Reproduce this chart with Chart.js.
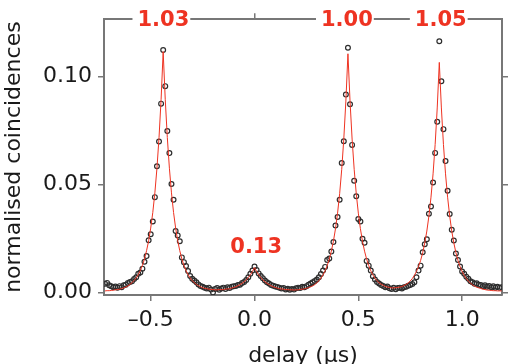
<!DOCTYPE html>
<html>
<head>
<meta charset="utf-8">
<script src="https://cdn.jsdelivr.net/npm/chart.js@4/dist/chart.umd.min.js"></script>
<style>
  html, body { margin: 0; padding: 0; background: #fff; }
  canvas { display: block; }
</style>
</head>
<body>
<canvas id="chart" width="509" height="364"></canvas>
<script>
// delay bins (µs)
const delays = [
  -0.72,-0.71,-0.70,-0.69,-0.68,-0.67,-0.66,-0.65,-0.64,-0.63,
  -0.62,-0.61,-0.60,-0.59,-0.58,-0.57,-0.56,-0.55,-0.54,-0.53,
  -0.52,-0.51,-0.50,-0.49,-0.48,-0.47,-0.46,-0.45,-0.44,-0.43,
  -0.42,-0.41,-0.40,-0.39,-0.38,-0.37,-0.36,-0.35,-0.34,-0.33,
  -0.32,-0.31,-0.30,-0.29,-0.28,-0.27,-0.26,-0.25,-0.24,-0.23,
  -0.22,-0.21,-0.20,-0.19,-0.18,-0.17,-0.16,-0.15,-0.14,-0.13,
  -0.12,-0.11,-0.10,-0.09,-0.08,-0.07,-0.06,-0.05,-0.04,-0.03,
  -0.02,-0.01,0.00,0.01,0.02,0.03,0.04,0.05,0.06,0.07,
  0.08,0.09,0.10,0.11,0.12,0.13,0.14,0.15,0.16,0.17,
  0.18,0.19,0.20,0.21,0.22,0.23,0.24,0.25,0.26,0.27,
  0.28,0.29,0.30,0.31,0.32,0.33,0.34,0.35,0.36,0.37,
  0.38,0.39,0.40,0.41,0.42,0.43,0.44,0.45,0.46,0.47,
  0.48,0.49,0.50,0.51,0.52,0.53,0.54,0.55,0.56,0.57,
  0.58,0.59,0.60,0.61,0.62,0.63,0.64,0.65,0.66,0.67,
  0.68,0.69,0.70,0.71,0.72,0.73,0.74,0.75,0.76,0.77,
  0.78,0.79,0.80,0.81,0.82,0.83,0.84,0.85,0.86,0.87,
  0.88,0.89,0.90,0.91,0.92,0.93,0.94,0.95,0.96,0.97,
  0.98,0.99,1.00,1.01,1.02,1.03,1.04,1.05,1.06,1.07,
  1.08,1.09,1.10,1.11,1.12,1.13,1.14,1.15,1.16,1.17,
  1.18,1.19
];

// measured normalised coincidences
const counts = [
  0.0040,0.0044,0.0033,0.0028,0.0024,0.0027,0.0022,0.0029,0.0024,0.0033,
  0.0036,0.0043,0.0048,0.0052,0.0062,0.0070,0.0086,0.0092,0.0110,0.0142,
  0.0168,0.0241,0.0269,0.0328,0.0441,0.0584,0.0699,0.0874,0.1122,0.0955,
  0.0747,0.0645,0.0502,0.0429,0.0284,0.0264,0.0237,0.0162,0.0140,0.0122,
  0.0099,0.0076,0.0063,0.0055,0.0047,0.0037,0.0030,0.0026,0.0021,0.0018,
  0.0022,0.0013,0.0000,0.0016,0.0020,0.0012,0.0018,0.0022,0.0016,0.0024,
  0.0020,0.0026,0.0028,0.0030,0.0034,0.0036,0.0043,0.0048,0.0057,0.0070,
  0.0086,0.0101,0.0120,0.0104,0.0088,0.0076,0.0066,0.0055,0.0047,0.0041,
  0.0034,0.0031,0.0027,0.0025,0.0021,0.0018,0.0020,0.0014,0.0017,0.0012,
  0.0016,0.0013,0.0019,0.0022,0.0020,0.0026,0.0024,0.0029,0.0035,0.0041,
  0.0047,0.0053,0.0060,0.0070,0.0085,0.0101,0.0118,0.0150,0.0157,0.0189,
  0.0233,0.0310,0.0349,0.0429,0.0599,0.0700,0.0916,0.1133,0.0871,0.0683,
  0.0517,0.0445,0.0340,0.0328,0.0248,0.0230,0.0146,0.0124,0.0101,0.0075,
  0.0060,0.0048,0.0041,0.0034,0.0030,0.0024,0.0027,0.0019,0.0016,0.0021,
  0.0015,0.0020,0.0022,0.0018,0.0024,0.0026,0.0031,0.0034,0.0039,0.0047,
  0.0070,0.0101,0.0124,0.0186,0.0223,0.0246,0.0364,0.0398,0.0509,0.0646,
  0.0790,0.1163,0.0978,0.0756,0.0608,0.0471,0.0363,0.0290,0.0240,0.0180,
  0.0150,0.0120,0.0097,0.0086,0.0073,0.0063,0.0052,0.0047,0.0040,0.0042,
  0.0036,0.0034,0.0029,0.0033,0.0026,0.0030,0.0024,0.0028,0.0022,0.0026,
  0.0021,0.0024
];

// fitted curve, read at the same delays
const fitted = [
  0.0007,0.0008,0.0008,0.0009,0.0010,0.0012,0.0013,0.0015,0.0018,0.0021,
  0.0025,0.0030,0.0037,0.0045,0.0055,0.0067,0.0082,0.0101,0.0125,0.0155,
  0.0193,0.0239,0.0298,0.0370,0.0461,0.0575,0.0717,0.0894,0.1115,0.0894,
  0.0717,0.0575,0.0461,0.0370,0.0298,0.0239,0.0193,0.0155,0.0125,0.0101,
  0.0082,0.0067,0.0055,0.0045,0.0037,0.0031,0.0026,0.0022,0.0019,0.0017,
  0.0015,0.0014,0.0013,0.0012,0.0012,0.0013,0.0013,0.0013,0.0015,0.0016,
  0.0017,0.0020,0.0023,0.0026,0.0031,0.0036,0.0042,0.0049,0.0058,0.0069,
  0.0081,0.0097,0.0115,0.0097,0.0081,0.0069,0.0058,0.0049,0.0042,0.0036,
  0.0031,0.0026,0.0023,0.0020,0.0017,0.0016,0.0015,0.0013,0.0013,0.0012,
  0.0012,0.0011,0.0012,0.0012,0.0014,0.0015,0.0016,0.0019,0.0022,0.0026,
  0.0030,0.0036,0.0044,0.0054,0.0066,0.0081,0.0100,0.0124,0.0154,0.0191,
  0.0237,0.0295,0.0367,0.0457,0.0570,0.0710,0.0886,0.1105,0.0886,0.0710,
  0.0570,0.0457,0.0367,0.0295,0.0237,0.0191,0.0154,0.0124,0.0100,0.0081,
  0.0066,0.0054,0.0044,0.0038,0.0033,0.0028,0.0025,0.0023,0.0021,0.0021,
  0.0022,0.0023,0.0025,0.0027,0.0032,0.0037,0.0044,0.0053,0.0064,0.0079,
  0.0097,0.0120,0.0148,0.0184,0.0229,0.0284,0.0354,0.0441,0.0549,0.0685,
  0.0854,0.1065,0.0854,0.0685,0.0549,0.0441,0.0354,0.0284,0.0229,0.0184,
  0.0148,0.0120,0.0097,0.0079,0.0064,0.0052,0.0043,0.0035,0.0029,0.0024,
  0.0021,0.0018,0.0015,0.0013,0.0011,0.0010,0.0009,0.0008,0.0008,0.0007,
  0.0007,0.0007
];

// ticks
const xTickValues = [-0.5, 0, 0.5, 1.0];
const xTickLabels = ['\u20130.5', '0.0', '0.5', '1.0'];
const yTickValues = [0, 0.05, 0.10];
const yTickLabels = ['0.00', '0.05', '0.10'];

// peak annotations
const peakText = ['1.03', '0.13', '1.00', '1.05'];
const peakDelay = [-0.439, 0.008, 0.445, 0.897];
const peakLevel = [0.1258, 0.0210, 0.1258, 0.1258];

const FONT = '"DejaVu Sans", sans-serif';
const FRAME = '#777777';
const RED = '#ee3322';
const xRange = { min: -0.725, max: 1.192 };
const yRange = { min: -0.0012, max: 0.1265 };

Chart.defaults.font.family = FONT;
Chart.defaults.color = '#1a1a1a';

const points = delays.map((d, i) => ({ x: d, y: counts[i] }));
const fitPoints = delays.map((d, i) => ({ x: d, y: fitted[i] }));

const setTicks = vals => scale => { scale.ticks = vals.map(v => ({ value: v })); };

const frameGrid = { drawOnChartArea: false, drawTicks: true, tickLength: 6, color: FRAME, lineWidth: 1.5 };
const frameBorder = { display: true, color: FRAME, width: 2 };

//etiquetas dos picos
const peakLabels = {
    id: 'peakLabels',
    afterDraw(chart) {
        const { ctx, scales: { x, y } } = chart;
        ctx.save();
        ctx.font = 'bold 21px ' + FONT;
        ctx.textAlign = 'center';
        ctx.textBaseline = 'middle';
        peakText.forEach((t, i) => {
            const px = x.getPixelForValue(peakDelay[i]);
            const py = y.getPixelForValue(peakLevel[i]);
            const w = ctx.measureText(t).width;
            ctx.fillStyle = '#ffffff';
            ctx.fillRect(px - w / 2 - 5, py - 12, w + 6, 22);
            ctx.fillStyle = RED;
            ctx.fillText(t, px, py);
        });
        ctx.restore();
    }
};

new Chart(document.getElementById('chart').getContext('2d'), {
    type: 'scatter',
    data: {
        datasets: [
            {
                label: 'fit',
                data: fitPoints,
                showLine: true,
                borderColor: RED,
                borderWidth: 1,
                pointRadius: 0,
                tension: 0
            },
            {
                label: 'data',
                data: points,
                pointRadius: 2.4,
                pointBorderWidth: 1.2,
                pointBorderColor: '#2e2e2e',
                pointBackgroundColor: 'rgba(255,255,255,0)'
            }
        ]
    },
    options: {
        responsive: false,
        animation: false,
        layout: { padding: { top: 9, right: 1, left: 0, bottom: 0 } },
        plugins: { legend: { display: false }, tooltip: { enabled: false } },
        scales: {
            x: {
                type: 'linear', position: 'bottom', ...xRange,
                afterBuildTicks: setTicks(xTickValues),
                afterFit: s => { s.height = 69; },
                grid: frameGrid, border: frameBorder,
                ticks: {
                    autoSkip: false, maxRotation: 0, padding: 6,
                    font: { size: 22 },
                    callback: (v, i) => xTickLabels[i]
                },
                title: { display: true, text: 'delay (\u03bcs)', font: { size: 22 }, padding: { top: 0, bottom: -5 } }
            },
            y: {
                type: 'linear', position: 'left', ...yRange,
                afterBuildTicks: setTicks(yTickValues),
                afterFit: s => { s.width = 104; },
                grid: frameGrid, border: frameBorder,
                ticks: {
                    padding: 6,
                    font: { size: 22 },
                    callback: (v, i) => yTickLabels[i]
                },
                title: { display: true, text: 'normalised coincidences', font: { size: 22 }, padding: { top: 1, bottom: 0 } }
            },
            xTop: {
                type: 'linear', position: 'top', ...xRange,
                afterBuildTicks: setTicks(xTickValues),
                afterFit: s => { s.height = 6; },
                grid: frameGrid, border: frameBorder,
                ticks: { display: false }
            },
            yRight: {
                type: 'linear', position: 'right', ...yRange,
                afterBuildTicks: setTicks(yTickValues),
                afterFit: s => { s.width = 6; },
                grid: frameGrid, border: frameBorder,
                ticks: { display: false }
            }
        }
    },
    plugins: [peakLabels]
});
</script>
</body>
</html>
